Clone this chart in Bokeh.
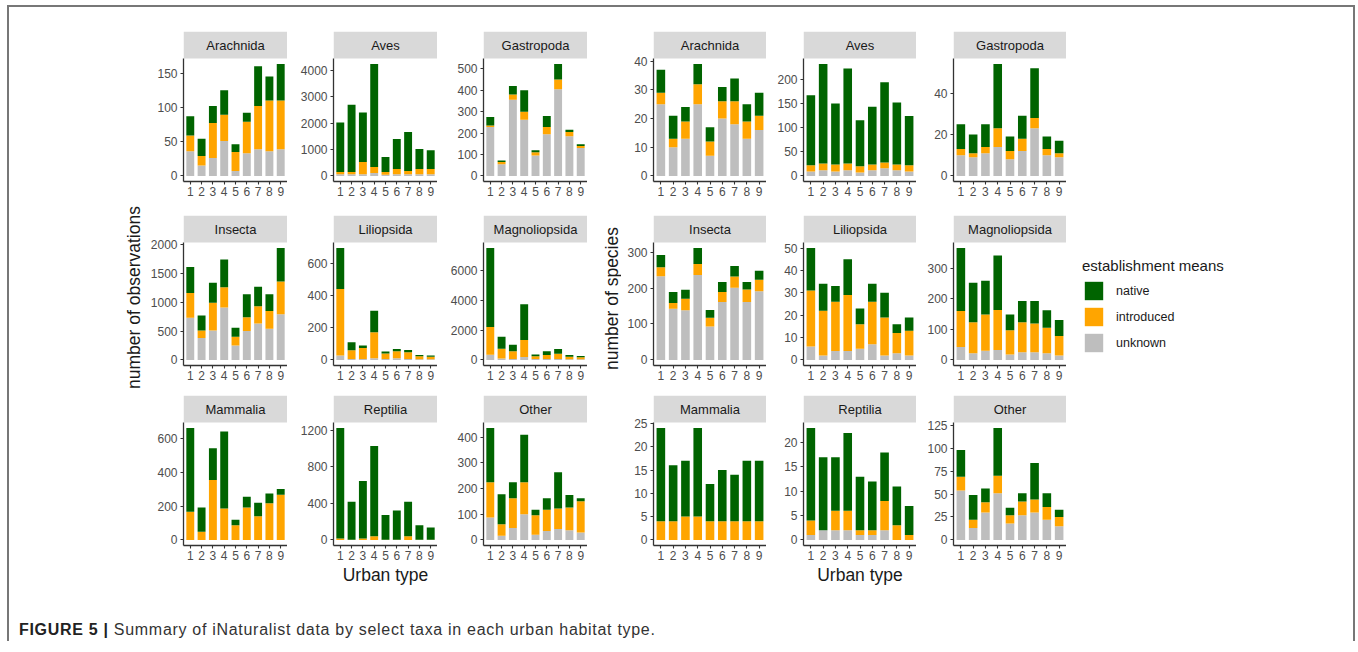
import math
from bokeh.plotting import figure
from bokeh.models import (ColumnDataSource, FixedTicker, Range1d, Legend, LegendItem,
                          Div, Spacer, Row, Column)
from bokeh.embed import file_html
from bokeh.resources import INLINE
from bokeh.core.properties import value

# ---------------- data ----------------
urban_type = [1, 2, 3, 4, 5, 6, 7, 8, 9]
taxa = ["Arachnida", "Aves", "Gastropoda", "Insecta", "Liliopsida",
        "Magnoliopsida", "Mammalia", "Reptilia", "Other"]
stack_order = ["unknown", "introduced", "native"]          # bottom -> top
legend_order = ["native", "introduced", "unknown"]
colors = {"native": "#006400", "introduced": "#FFA500", "unknown": "#BEBEBE"}

# number of observations (one list per taxon, urban types 1..9)
obs_unknown = [
    [36, 15, 26, 51, 7, 33, 39, 36, 39],
    [60, 60, 60, 110, 40, 60, 60, 60, 60],
    [228, 55, 355, 262, 95, 195, 405, 185, 130],
    [730, 380, 510, 910, 250, 500, 630, 540, 790],
    [27, 6, 5, 10, 5, 10, 6, 4, 4],
    [350, 100, 60, 200, 60, 60, 60, 40, 40],
    [0, 0, 0, 0, 0, 0, 0, 0, 0],
    [0, 0, 0, 0, 0, 0, 0, 0, 0],
    [87, 16, 46, 100, 20, 35, 42, 38, 29],
]
obs_introduced = [
    [23, 14, 51, 38, 28, 46, 63, 74, 71],
    [90, 90, 470, 230, 110, 205, 130, 205, 205],
    [7, 10, 25, 38, 15, 33, 45, 20, 10],
    [430, 130, 480, 350, 150, 240, 300, 310, 570],
    [412, 54, 69, 161, 34, 44, 41, 19, 15],
    [1850, 650, 520, 1130, 185, 270, 360, 180, 140],
    [167, 48, 356, 187, 87, 193, 141, 217, 268],
    [15, 3, 15, 40, 3, 3, 40, 3, 3],
    [137, 45, 116, 124, 76, 82, 80, 88, 121],
]
obs_native = [
    [28, 25, 25, 36, 11, 13, 58, 35, 53],
    [1870, 2540, 1870, 3890, 570, 1135, 1475, 755, 705],
    [40, 7, 40, 100, 10, 52, 72, 10, 8],
    [450, 260, 350, 480, 160, 400, 340, 290, 580],
    [254, 49, 15, 134, 13, 14, 15, 8, 8],
    [5300, 800, 440, 2400, 110, 250, 310, 110, 90],
    [497, 145, 189, 457, 32, 63, 80, 59, 34],
    [1211, 415, 631, 991, 269, 320, 378, 158, 133],
    [211, 117, 62, 185, 21, 45, 141, 49, 12],
]
obs_yticks = [
    [0, 50, 100, 150],
    [0, 1000, 2000, 3000, 4000],
    [0, 100, 200, 300, 400, 500],
    [0, 500, 1000, 1500, 2000],
    [0, 200, 400, 600],
    [0, 2000, 4000, 6000],
    [0, 200, 400, 600],
    [0, 400, 800, 1200],
    [0, 100, 200, 300, 400],
]

# number of species
spp_unknown = [
    [25, 10, 13, 25, 7, 20, 18, 13, 16],
    [9, 12, 9, 12, 7, 12, 16, 12, 9],
    [10, 9, 11, 14, 8, 12, 23, 10, 9],
    [233, 142, 138, 236, 93, 161, 201, 161, 191],
    [6, 2, 4, 4, 5, 7, 2, 3, 2],
    [42, 22, 30, 32, 18, 25, 25, 22, 14],
    [0, 0, 0, 0, 0, 0, 0, 0, 0],
    [1, 2, 2, 2, 1, 1, 2, 0, 0],
    [54, 13, 30, 51, 18, 27, 30, 22, 15],
]
spp_introduced = [
    [4, 3, 6, 7, 5, 6, 8, 6, 5],
    [13, 14, 15, 14, 13, 12, 12, 12, 13],
    [3, 2, 3, 9, 4, 6, 5, 3, 2],
    [25, 16, 32, 31, 24, 28, 31, 35, 32],
    [25, 20, 22, 25, 11, 19, 17, 9, 11],
    [118, 101, 118, 131, 79, 98, 94, 83, 64],
    [4, 4, 5, 5, 4, 4, 4, 4, 4],
    [3, 0, 4, 4, 1, 1, 6, 3, 1],
    [15, 9, 11, 19, 9, 15, 14, 14, 10],
]
spp_native = [
    [8, 8, 5, 7, 5, 5, 8, 6, 8],
    [146, 207, 127, 198, 96, 120, 167, 129, 103],
    [12, 9, 11, 31, 7, 11, 24, 6, 6],
    [34, 31, 25, 44, 22, 28, 29, 21, 25],
    [19, 12, 7, 16, 7, 8, 11, 4, 6],
    [205, 129, 110, 178, 51, 69, 73, 57, 52],
    [20, 12, 12, 19, 8, 11, 10, 13, 13],
    [19, 15, 11, 16, 11, 10, 10, 8, 6],
    [29, 27, 15, 52, 8, 9, 40, 15, 8],
]
spp_yticks = [
    [0, 10, 20, 30, 40],
    [0, 50, 100, 150, 200],
    [0, 20, 40],
    [0, 100, 200, 300],
    [0, 10, 20, 30, 40, 50],
    [0, 100, 200, 300],
    [0, 5, 10, 15, 20, 25],
    [0, 5, 10, 15, 20],
    [0, 25, 50, 75, 100, 125],
]

FONT = "Liberation Sans"
PANEL_H = 123
STRIP_H = 27
ROW_TOP = [5, 5, 5]
ROW_BOTTOM = [29, 25, 50]
GRID_H = sum(ROW_TOP) + sum(ROW_BOTTOM) + 3 * (PANEL_H + STRIP_H)


def make_panel(name, unk, intro, nat, yticks, fw, left_b, top_b, bottom_b, xlabel=None):
    totals = [a + b + c for a, b, c in zip(unk, intro, nat)]
    m = max(totals)
    lo, hi = -0.05 * m, 1.05 * m
    upp = (hi - lo) / PANEL_H
    top = hi + STRIP_H * upp
    xr = Range1d(0.4, 9.6)
    p = figure(frame_width=fw, frame_height=PANEL_H + STRIP_H,
               x_range=xr, y_range=Range1d(lo, top),
               min_border_left=left_b, min_border_right=0,
               min_border_top=top_b, min_border_bottom=bottom_b,
               toolbar_location=None, output_backend="svg")
    src = ColumnDataSource(dict(x=urban_type, unknown=unk, introduced=intro, native=nat))
    p.vbar_stack(stack_order, x="x", width=0.7, source=src,
                 fill_color=[colors[k] for k in stack_order], line_color=None)
    # facet strip
    p.quad(left=[xr.start], right=[xr.end], bottom=[hi], top=[top],
           fill_color="#D9D9D9", line_color=None)
    p.text(x=[(xr.start + xr.end) / 2], y=[(hi + top) / 2], text=[name],
           text_align="center", text_baseline="middle",
           text_font=value(FONT), text_font_size="13px", text_color="#1A1A1A")
    p.xgrid.visible = False
    p.ygrid.visible = False
    p.outline_line_color = None
    p.background_fill_color = "white"
    p.border_fill_color = "white"
    p.xaxis.ticker = FixedTicker(ticks=urban_type)
    p.yaxis.ticker = FixedTicker(ticks=yticks)
    p.yaxis.bounds = (lo, hi)
    for ax in (p.xaxis[0], p.yaxis[0]):
        ax.axis_line_color = "#333333"
        ax.axis_line_width = 1.3
        ax.major_tick_line_color = "#333333"
        ax.major_tick_line_width = 1.1
        ax.major_tick_in = 0
        ax.major_tick_out = 3
        ax.minor_tick_line_color = None
        ax.major_label_text_font = FONT
        ax.major_label_text_font_size = "12px"
        ax.major_label_text_color = "#4D4D4D"
        ax.axis_label_text_font = FONT
        ax.axis_label_text_font_size = "17.5px"
        ax.axis_label_text_font_style = "normal"
        ax.axis_label_text_color = "#1A1A1A"
    p.xaxis.major_label_standoff = 2
    p.yaxis.major_label_standoff = 3
    if xlabel:
        p.xaxis.axis_label = xlabel
        p.xaxis.axis_label_standoff = 2
    return p


def make_grid(unknown, introduced, native, yticks, fw, first_left, other_left):
    rows = []
    for r in range(3):
        figs = []
        for c in range(3):
            i = r * 3 + c
            figs.append(make_panel(
                taxa[i], unknown[i], introduced[i], native[i], yticks[i], fw,
                first_left if c == 0 else other_left,
                ROW_TOP[r], ROW_BOTTOM[r],
                xlabel="Urban type" if (r == 2 and c == 1) else None))
        rows.append(Row(children=figs, spacing=0))
    return Column(children=rows, spacing=0)


def make_ylabel(text, width, x_center, y_from_top):
    f = figure(width=width, height=GRID_H, x_range=Range1d(0, width),
               y_range=Range1d(0, GRID_H), min_border=0,
               toolbar_location=None, output_backend="svg")
    f.axis.visible = False
    f.xgrid.visible = False
    f.ygrid.visible = False
    f.outline_line_color = None
    f.text(x=[x_center], y=[GRID_H - y_from_top], text=[text], angle=math.pi / 2,
           text_align="center", text_baseline="middle",
           text_font=value(FONT), text_font_size="17.5px", text_color="#1A1A1A")
    return f


left_grid = make_grid(obs_unknown, obs_introduced, obs_native, obs_yticks, 104, 40, 46)
right_grid = make_grid(spp_unknown, spp_introduced, spp_native, spp_yticks, 113, 32, 37)
left_ylab = make_ylabel("number of observations", 30, 20, 271)
right_ylab = make_ylabel("number of species", 34, 24, 272)

# legend panel
leg = figure(width=287, height=GRID_H, x_range=Range1d(0, 1), y_range=Range1d(0, 1),
             min_border=0, toolbar_location=None, output_backend="svg")
leg.axis.visible = False
leg.xgrid.visible = False
leg.ygrid.visible = False
leg.outline_line_color = None
items = []
nan = float("nan")
for k in legend_order:
    r = leg.quad(left=[nan], right=[nan], top=[nan], bottom=[nan],
                 fill_color=colors[k], line_color=None)
    items.append(LegendItem(label=k, renderers=[r]))
legend = Legend(items=items, title="establishment means", location=(16, 241),
                glyph_width=23, glyph_height=23, label_height=23, spacing=3,
                padding=0, margin=0, label_standoff=11,
                border_line_color=None, background_fill_alpha=0,
                label_text_font=FONT, label_text_font_size="12.5px",
                label_text_color="#1A1A1A",
                title_text_font=FONT, title_text_font_size="15px",
                title_text_font_style="normal", title_text_color="#1A1A1A",
                title_standoff=5)
leg.add_layout(legend)

caption = Div(
    text='<span style="font-weight:bold;color:#222">FIGURE 5 |</span> '
         'Summary of iNaturalist data by select taxa in each urban habitat type.',
    width=1300, height=20, margin=(26, 0, 0, 10),
    styles={"font-family": "'Liberation Sans', Arial, sans-serif", "font-size": "16px",
            "letter-spacing": "0.7px", "line-height": "18px", "color": "#333"})

top_row = Row(children=[Spacer(width=104, height=GRID_H), left_ylab, left_grid,
                        right_ylab, right_grid, leg], spacing=0)
p = Column(children=[Spacer(width=1344, height=19), top_row, caption], spacing=0,
           margin=(5, 0, 0, 7),
           styles={"border-left": "2px solid #777", "border-top": "2px solid #777",
                   "border-right": "2px solid #777"})

open("out.html", "w").write(file_html(p, INLINE))
